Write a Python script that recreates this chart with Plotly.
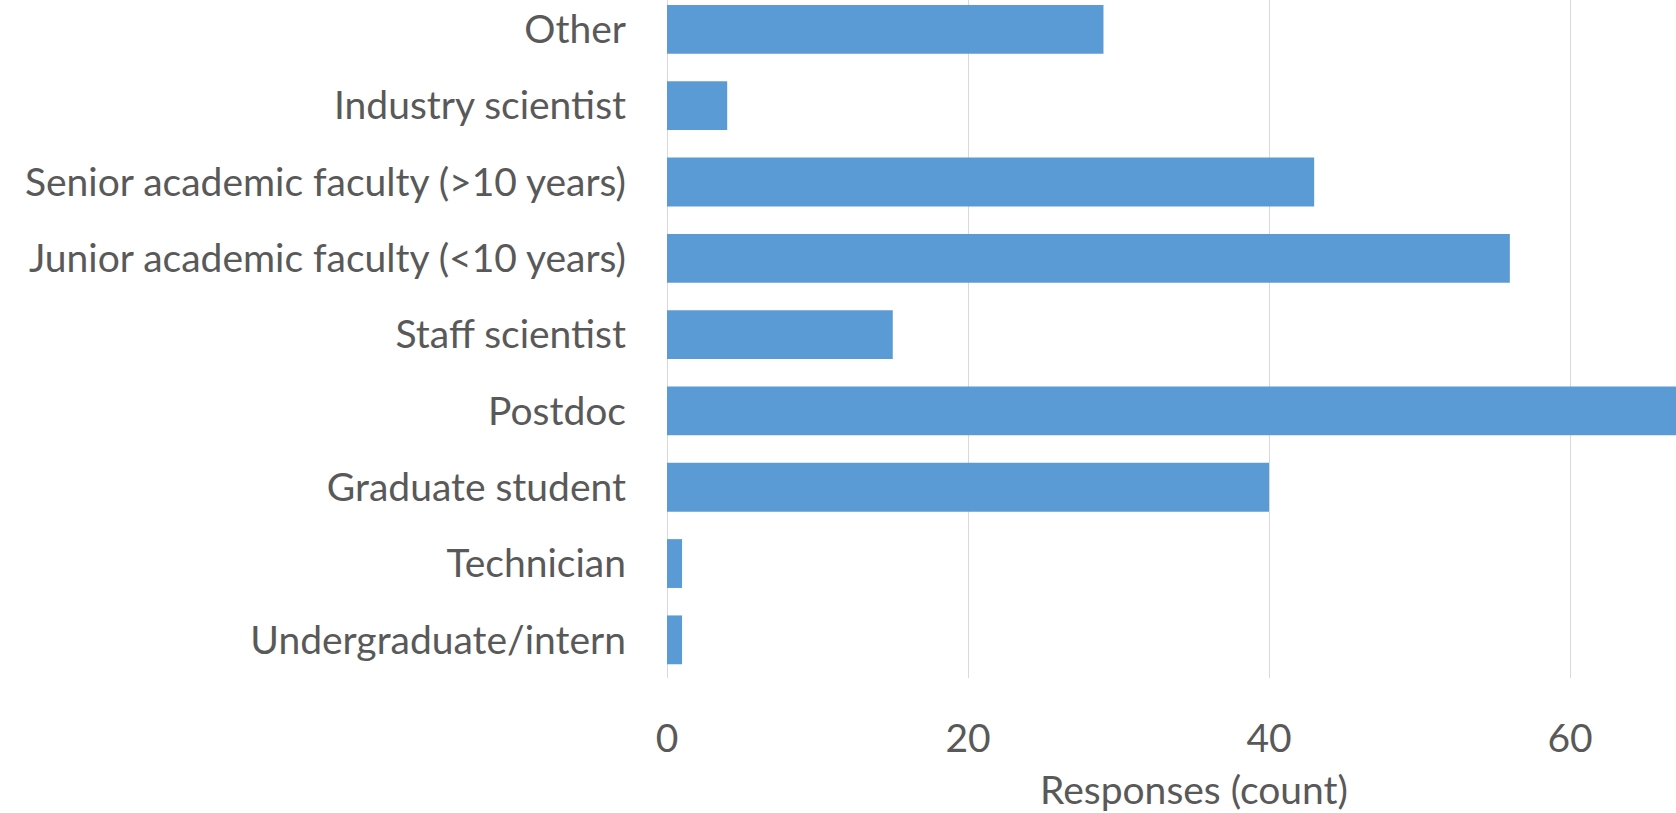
import plotly.graph_objects as go

categories = ["Undergraduate/intern", "Technician", "Graduate student", "Postdoc",
              "Staff scientist", "Junior academic faculty (<10 years)",
              "Senior academic faculty (>10 years)", "Industry scientist", "Other"]
counts = [1, 1, 40, 70, 15, 56, 43, 4, 29]
x_ticks = [0, 20, 40, 60]

W, H = 1676, 813
L, B = 667, 135
FONT = "Lato"
FS = 39
GREY = "#595959"

fig = go.Figure(go.Bar(
    x=counts, y=categories, orientation="h",
    marker=dict(color="#5b9bd5", line=dict(width=0)),
    width=0.64,
))

fig.update_layout(
    width=W, height=H,
    margin=dict(l=L, r=0, t=0, b=B, pad=0),
    paper_bgcolor="white", plot_bgcolor="white",
    showlegend=False,
    font=dict(family=FONT, size=FS, color=GREY),
    xaxis=dict(range=[0, 67.04], tickvals=x_ticks, showgrid=True,
               gridcolor="#d9d9d9", gridwidth=1, zeroline=True,
               zerolinecolor="#d9d9d9", zerolinewidth=1, showline=False,
               ticks="", ticklabelstandoff=34,
               tickfont=dict(family=FONT, size=FS, color=GREY)),
    yaxis=dict(type="category", categoryorder="array", categoryarray=categories,
               range=[-0.5, 8.385], showgrid=False, zeroline=False, showline=False,
               ticks="", ticklabelstandoff=40,
               tickfont=dict(family=FONT, size=FS, color=GREY)),
    annotations=[dict(text="Responses (count)", xref="paper", yref="paper",
                      x=(1194 - L) / (W - L), y=0, xanchor="center", yanchor="middle",
                      yshift=-111, showarrow=False,
                      font=dict(family=FONT, size=FS, color=GREY))],
)

fig.write_html("out.html")
